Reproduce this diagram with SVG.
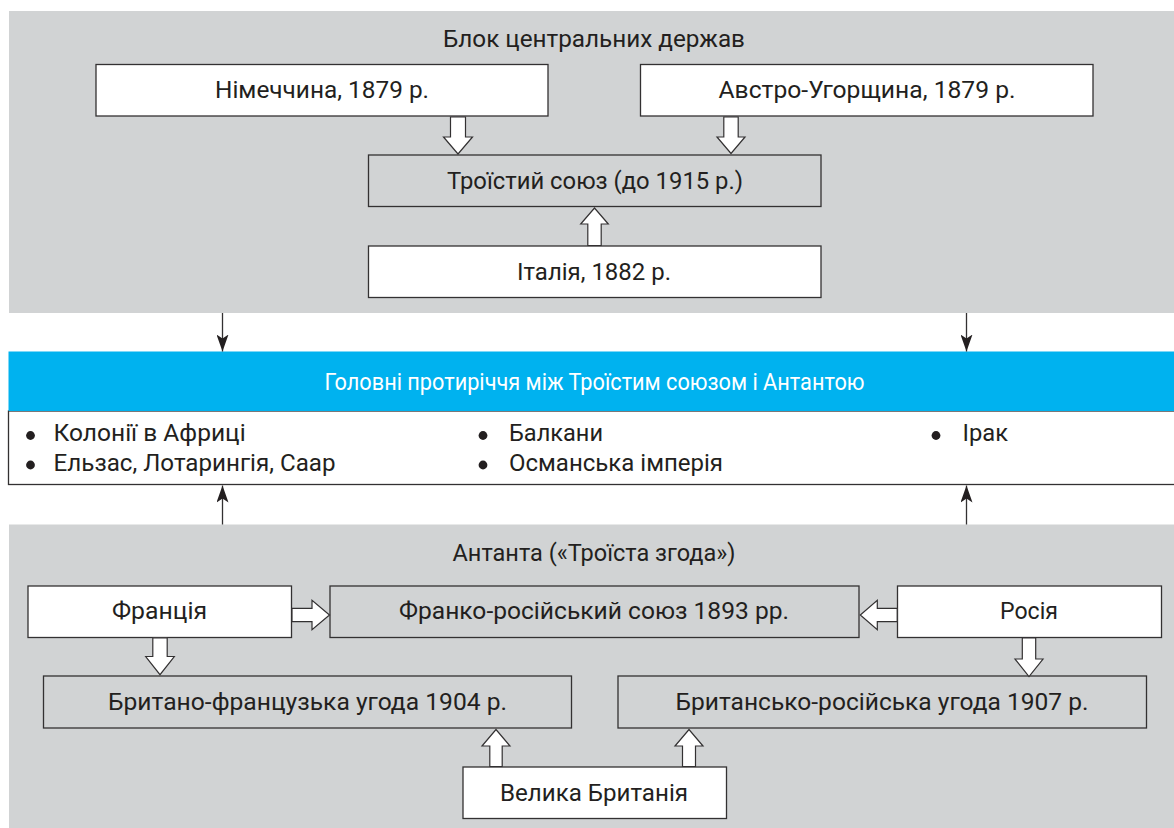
<svg xmlns="http://www.w3.org/2000/svg" width="1174" height="828" viewBox="0 0 1174 828">
<defs>
<style>
.panel{fill:#d1d3d4}
.box{stroke:#333132;stroke-width:1.3}
.w{fill:#ffffff}
.g{fill:#d1d3d4}
.t{font-family:Roboto,"Liberation Sans",sans-serif;font-size:23px;fill:#231f20}
.c{text-anchor:middle}
.ba{fill:#ffffff;stroke:#333132;stroke-width:1.2;stroke-linejoin:miter}
.ln{stroke:#333132;stroke-width:1.3;fill:none}
.bul{fill:#231f20}
</style>
<marker id="ah" viewBox="0 0 17 12" refX="17" refY="6" markerWidth="17" markerHeight="12" markerUnits="userSpaceOnUse" orient="auto">
<path d="M0,0 L17,6 L0,12 L4,6 Z" fill="#231f20"/>
</marker>
</defs>
<rect width="1174" height="828" fill="#ffffff"/>

<g id="panel-central">
<rect class="panel" x="9" y="11" width="1166" height="302"/>
<text class="t c" x="594" y="47" textLength="302" lengthAdjust="spacingAndGlyphs">Блок центральних держав</text>
</g>

<g id="panel-entente">
<rect class="panel" x="9" y="524.5" width="1166" height="304"/>
<text class="t c" x="594" y="561" textLength="283" lengthAdjust="spacingAndGlyphs">Антанта («Троїста згода»)</text>
</g>

<g id="node-germany">
<rect class="box w" x="96" y="64.5" width="452" height="51.5"/>
<text class="t c" x="322" y="97.5" textLength="214" lengthAdjust="spacingAndGlyphs">Німеччина, 1879 р.</text>
</g>
<g id="node-austria">
<rect class="box w" x="640.5" y="64.5" width="452.5" height="51.5"/>
<text class="t c" x="867" y="97.5" textLength="297" lengthAdjust="spacingAndGlyphs">Австро-Угорщина, 1879 р.</text>
</g>
<g id="node-triple">
<rect class="box g" x="368.5" y="155" width="452.5" height="51.5"/>
<text class="t c" x="595" y="188.5" textLength="296" lengthAdjust="spacingAndGlyphs">Троїстий союз (до 1915 р.)</text>
</g>
<g id="node-italy">
<rect class="box w" x="368.5" y="246" width="452.5" height="51.5"/>
<text class="t c" x="594" y="279.5" textLength="154" lengthAdjust="spacingAndGlyphs">Італія, 1882 р.</text>
</g>

<g id="node-contradictions">
<rect x="8.5" y="411" width="1170" height="73.5" fill="#ffffff" stroke="#333132" stroke-width="1.3"/>
<rect x="8.5" y="351.5" width="1170" height="59.5" fill="#00b2ef"/>
<text class="t c" x="594.5" y="389.5" textLength="540" lengthAdjust="spacingAndGlyphs" style="fill:#ffffff">Головні протиріччя між Троїстим союзом і Антантою</text>
<circle class="bul" cx="30.5" cy="435.5" r="4.4"/>
<text class="t" x="53.6" y="441" textLength="192" lengthAdjust="spacingAndGlyphs">Колонії в Африці</text>
<circle class="bul" cx="30.5" cy="465" r="4.4"/>
<text class="t" x="53.6" y="470.5" textLength="282" lengthAdjust="spacingAndGlyphs">Ельзас, Лотарингія, Саар</text>
<circle class="bul" cx="483" cy="435.5" r="4.4"/>
<text class="t" x="509" y="441" textLength="94" lengthAdjust="spacingAndGlyphs">Балкани</text>
<circle class="bul" cx="483" cy="465" r="4.4"/>
<text class="t" x="509" y="470.5" textLength="214" lengthAdjust="spacingAndGlyphs">Османська імперія</text>
<circle class="bul" cx="936" cy="435.5" r="4.4"/>
<text class="t" x="962.6" y="441" textLength="45.5" lengthAdjust="spacingAndGlyphs">Ірак</text>
</g>

<g id="node-france">
<rect class="box w" x="28" y="586" width="263.5" height="51.5"/>
<text class="t c" x="159.5" y="619" textLength="95" lengthAdjust="spacingAndGlyphs">Франція</text>
</g>
<g id="node-franco-russian">
<rect class="box g" x="330" y="586" width="529" height="51.5"/>
<text class="t c" x="594" y="619" textLength="390" lengthAdjust="spacingAndGlyphs">Франко-російський союз 1893 рр.</text>
</g>
<g id="node-russia">
<rect class="box w" x="897.5" y="586" width="264" height="51.5"/>
<text class="t c" x="1029" y="619" textLength="58" lengthAdjust="spacingAndGlyphs">Росія</text>
</g>
<g id="node-anglo-french">
<rect class="box g" x="43.5" y="676" width="528" height="52"/>
<text class="t c" x="307.5" y="709.5" textLength="399" lengthAdjust="spacingAndGlyphs">Британо-французька угода 1904 р.</text>
</g>
<g id="node-anglo-russian">
<rect class="box g" x="618" y="676" width="528.5" height="52"/>
<text class="t c" x="882" y="709.5" textLength="413" lengthAdjust="spacingAndGlyphs">Британсько-російська угода 1907 р.</text>
</g>
<g id="node-britain">
<rect class="box w" x="463" y="767" width="263.5" height="51.5"/>
<text class="t c" x="594" y="800.5" textLength="188" lengthAdjust="spacingAndGlyphs">Велика Британія</text>
</g>

<g id="connectors">
<path class="ba" d="M450.5,117 H465.5 V137 H472.5 L458,154 L443.5,137 H450.5 Z"/>
<path class="ba" d="M723.8,117 H738.2 V137 H745 L731,153.5 L717,137 H723.8 Z"/>
<path class="ba" d="M587.8,245.5 H601.2 V224 H608.3 L594.5,208 L580.7,224 H587.8 Z"/>
<path class="ba" d="M152.8,637.8 H167.2 V656.5 H174.3 L160,674.7 L145.7,656.5 H152.8 Z"/>
<path class="ba" d="M1022.3,638 H1035.7 V659 H1043 L1029,676.5 L1015,659 H1022.3 Z"/>
<path class="ba" d="M292,608.3 H312 V600.4 L329.5,615 L312,629.6 V621.7 H292 Z"/>
<path class="ba" d="M897.2,608.3 H877.3 V600.4 L860.3,615 L877.3,629.6 V621.7 H897.2 Z"/>
<path class="ba" d="M489.8,766.5 H502.2 V746 H510 L496,729.5 L482,746 H489.8 Z"/>
<path class="ba" d="M682.5,766.5 H695.5 V746 H703 L689,729.5 L675,746 H682.5 Z"/>
<line class="ln" x1="222.5" y1="313" x2="222.5" y2="351.5" marker-end="url(#ah)"/>
<line class="ln" x1="966.5" y1="313" x2="966.5" y2="351.5" marker-end="url(#ah)"/>
<line class="ln" x1="222.5" y1="524.5" x2="222.5" y2="485.5" marker-end="url(#ah)"/>
<line class="ln" x1="966.5" y1="524.5" x2="966.5" y2="485.5" marker-end="url(#ah)"/>
</g>
</svg>
